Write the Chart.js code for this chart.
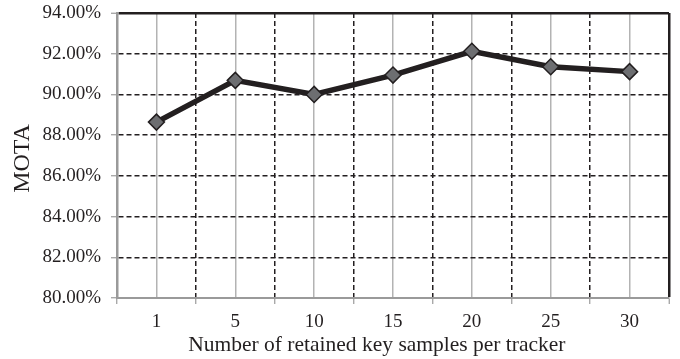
<!DOCTYPE html>
<html>
<head>
<meta charset="utf-8">
<script src="https://cdn.jsdelivr.net/npm/chart.js@4/dist/chart.umd.min.js"></script>
<style>
  html, body { margin: 0; padding: 0; background: #ffffff; }
  #wrap { width: 680px; height: 359px; position: relative; }
</style>
</head>
<body>
<div id="wrap"><canvas id="c"></canvas></div>
<script>
const categories = ['1', '5', '10', '15', '20', '25', '30'];
const motaValues = [88.64, 90.69, 90.00, 90.95, 92.12, 91.36, 91.12];
const yMin = 80;
const yMax = 94;
const yStep = 2;
const yTitle = 'MOTA';
const xTitle = 'Number of retained key samples per tracker';

const INK = '#231f20';
const GRAY = '#b3b3b3';
const AXIS_GRAY = '#9a9a9a';
const FONT = "'Liberation Serif', 'Times New Roman', serif";

new Chart(document.getElementById('c'), {
  type: 'line',
  data: {
    labels: categories,
    datasets: [{
      data: motaValues,
      borderColor: INK,
      borderWidth: 5.5,
      pointStyle: 'rectRot',
      pointRadius: 8,
      pointHoverRadius: 8,
      pointBackgroundColor: '#6d6e71',
      pointBorderColor: INK,
      pointBorderWidth: 1.5,
      tension: 0,
      fill: false
    }]
  },
  options: {
    responsive: true,
    maintainAspectRatio: false,
    animation: false,
    layout: { padding: { left: 6, right: 11, top: 13, bottom: 0 } },
    plugins: { legend: { display: false }, tooltip: { enabled: false } },
    scales: {
      x: {
        type: 'category',
        offset: true,
        grid: {
          offset: true,
          color: (ctx) => (ctx.index === 0 ? 'rgba(0,0,0,0)' : INK),
          lineWidth: (ctx) => (ctx.index === undefined ? 2.5 : 1.5),
          tickColor: AXIS_GRAY,
          tickLength: 6,
          tickBorderDash: [],
          tickWidth: 1.2
        },
        border: {
          display: true,
          color: AXIS_GRAY,
          width: 2,
          dash: (ctx) => (ctx.index === undefined ? [] : [5, 3])
        },
        ticks: {
          color: INK,
          font: { family: FONT, size: 19 },
          padding: 7,
          maxRotation: 0
        },
        title: {
          display: true,
          text: xTitle + '\u00a0\u00a0\u00a0\u00a0\u00a0\u00a0',
          color: INK,
          font: { family: FONT, size: 21.5 },
          padding: { top: 0, bottom: 1 }
        },
        afterFit: (scale) => {
          scale.height = 61;
          scale.paddingLeft = 0;
          scale.paddingRight = 0;
        }
      },
      xc: {
        type: 'category',
        position: 'bottom',
        offset: true,
        grid: {
          offset: false,
          color: GRAY,
          lineWidth: 1.5,
          drawTicks: false
        },
        border: { display: false },
        ticks: { display: false },
        afterFit: (scale) => {
          scale.height = 0;
          scale.paddingLeft = 0;
          scale.paddingRight = 0;
        }
      },
      y: {
        min: yMin,
        max: yMax,
        grid: {
          color: (ctx) => (ctx.tick && ctx.tick.value === yMin ? 'rgba(0,0,0,0)' : INK),
          lineWidth: (ctx) => (ctx.tick && ctx.tick.value === yMax ? 2.5 : 1.5),
          tickColor: AXIS_GRAY,
          tickLength: 6,
          tickBorderDash: [],
          tickWidth: 1.2
        },
        border: {
          display: true,
          color: AXIS_GRAY,
          width: 2.5,
          dash: (ctx) => (ctx.tick && ctx.tick.value === yMax ? [] : [5, 3])
        },
        ticks: {
          stepSize: yStep,
          color: INK,
          font: { family: FONT, size: 19 },
          padding: 10,
          callback: (v) => Number(v).toFixed(2) + '%'
        },
        title: {
          display: true,
          text: yTitle + '\u00a0',
          color: INK,
          font: { family: FONT, size: 24 },
          padding: { top: 2, bottom: 0 }
        },
        afterFit: (scale) => {
          scale.width = 111;
          scale.paddingTop = 0;
          scale.paddingBottom = 0;
        }
      }
    }
  }
});
</script>
</body>
</html>
